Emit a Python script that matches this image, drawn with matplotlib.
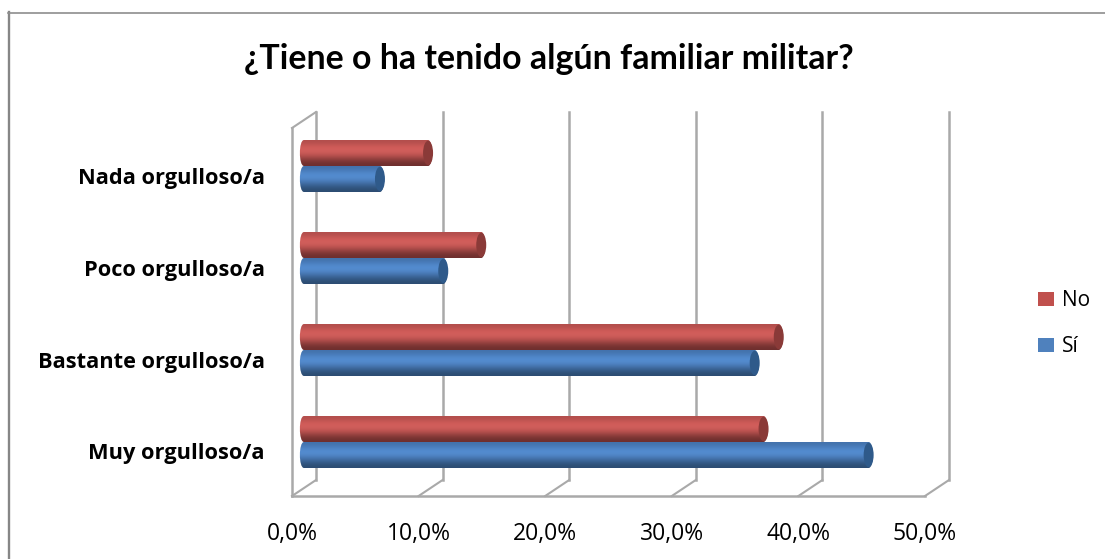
import numpy as np
import matplotlib
matplotlib.use("Agg")
import matplotlib.pyplot as plt
from matplotlib.patches import Ellipse, PathPatch, Rectangle
from matplotlib.path import Path
from matplotlib.lines import Line2D

plt.rcParams["font.family"] = ["Open Sans", "DejaVu Sans"]

# ---------------- data ----------------
categories = ["Muy orgulloso/a", "Bastante orgulloso/a", "Poco orgulloso/a", "Nada orgulloso/a"]
si_values = [44.6, 35.6, 11.0, 6.0]
no_values = [36.3, 37.5, 14.0, 9.8]
x_ticks = [0, 10, 20, 30, 40, 50]
x_labels = ["0,0%", "10,0%", "20,0%", "30,0%", "40,0%", "50,0%"]
title = "¿Tiene o ha tenido algún familiar militar?"

# colours of each bar from top edge to bottom edge
RED_SHADES = ["#b24e4c", "#cf5b58", "#d4605d", "#bd5351", "#8c3d3b", "#6e2f2e"]
BLUE_SHADES = ["#4372ac", "#4f86c8", "#568fd4", "#4a7cb9", "#38608f", "#2c4c72"]
RED_CAP = "#8a3a38"
BLUE_CAP = "#2f5a8a"

W, H = 1105, 559
fig = plt.figure(figsize=(W / 100, H / 100), dpi=100)

# outer frame, only top and left show in the source
fig.add_artist(Line2D([9 / W, 9 / W], [0, 1 - 12 / H], color="#868686", lw=1.7))
fig.add_artist(Line2D([8 / W, 1], [1 - 12.5 / H, 1 - 12.5 / H], color="#8e8e8e", lw=1.2))

# axes = front plane of the fake 3D box
left, right, top, bottom = 292, 925, 128, 496
ax = fig.add_axes([left / W, 1 - bottom / H, (right - left) / W, (bottom - top) / H])
ax.set_xlim(0, 50)
ax.set_ylim(0, 4)
ax.patch.set_visible(False)
for s in ax.spines.values():
    s.set_visible(False)

px_x = 50 / (right - left)
px_y = 4 / (bottom - top)
depth_x = 24 * px_x
depth_y = 16 * px_y

# walls and gridlines
WALL = "#a9a9a9"
for t in x_ticks:
    ax.plot([t + depth_x, t + depth_x], [depth_y, 4 + depth_y], color=WALL, lw=1.8, clip_on=False, zorder=1)
    ax.plot([t, t + depth_x], [0, depth_y], color=WALL, lw=1.5, clip_on=False, zorder=1)
ax.plot([0, 50], [0, 0], color=WALL, lw=1.8, clip_on=False, zorder=1)
ax.plot([0, 0], [0, 4], color=WALL, lw=1.8, clip_on=False, zorder=1)
ax.plot([0, depth_x], [4, 4 + depth_y], color=WALL, lw=1.5, clip_on=False, zorder=1)


def draw_bar(value, y0, shades, cap_colour):
    # bars sit half way into the depth of the box
    x0 = depth_x / 2
    x1 = x0 + value
    h = 26 * px_y
    rx = 5 * px_x
    k = 0.55
    verts = [(x0, y0), (x1, y0),
             (x1 + rx * k * 2, y0), (x1 + rx * k * 2, y0 + h), (x1, y0 + h),
             (x0, y0 + h),
             (x0 - rx * k * 2, y0 + h), (x0 - rx * k * 2, y0), (x0, y0),
             (x0, y0)]
    codes = [Path.MOVETO, Path.LINETO, Path.CURVE4, Path.CURVE4, Path.CURVE4,
             Path.LINETO, Path.CURVE4, Path.CURVE4, Path.CURVE4, Path.CLOSEPOLY]
    rgb = np.array([matplotlib.colors.to_rgb(c) for c in shades])
    grad = rgb[:, None, :]
    im = ax.imshow(grad, extent=[x0 - 2 * rx, x1 + 2 * rx, y0, y0 + h], origin="upper",
                   aspect="auto", interpolation="bicubic", zorder=3)
    clip = PathPatch(Path(verts, codes), transform=ax.transData, fc="none", ec="none")
    ax.add_patch(clip)
    im.set_clip_path(clip)
    ax.add_patch(Ellipse((x1, y0 + h / 2), 2 * rx, h * 0.94, fc=cap_colour, ec="none", zorder=4))


mid = depth_y / 2
for i, cat in enumerate(categories):
    yc = i + 0.5 + mid
    draw_bar(si_values[i], yc - 26 * px_y, BLUE_SHADES, BLUE_CAP)
    draw_bar(no_values[i], yc, RED_SHADES, RED_CAP)
    # labels follow the front plane, a bit lower than the bars
    ax.text(-27 * px_x, i + 0.5 - 4 * px_y, cat, ha="right", va="center", fontsize=15.7,
            fontweight="bold", color="black", clip_on=False)

ax.set_xlim(0, 50)
ax.set_ylim(0, 4)
ax.set_yticks([])
ax.set_xticks(x_ticks)
ax.set_xticklabels(x_labels, fontsize=16.5, color="black")
ax.tick_params(axis="x", length=0, pad=19)

fig.text(548.5 / W, 1 - 59 / H, title, ha="center", va="center", fontsize=24.4,
         fontweight="bold", color="black", family=["Lato", "DejaVu Sans"])

# legend
for label, colour, y in [("No", "#c0504d", 299), ("Sí", "#4f81bd", 345)]:
    fig.add_artist(Rectangle((1038 / W, 1 - (y + 7) / H), 16 / W, 14 / H, transform=fig.transFigure,
                             fc=colour, ec="none"))
    fig.text(1062 / W, 1 - (y + 2) / H, label, ha="left", va="center", fontsize=15, color="black")

fig.savefig("out.png", dpi=100, facecolor="white")
